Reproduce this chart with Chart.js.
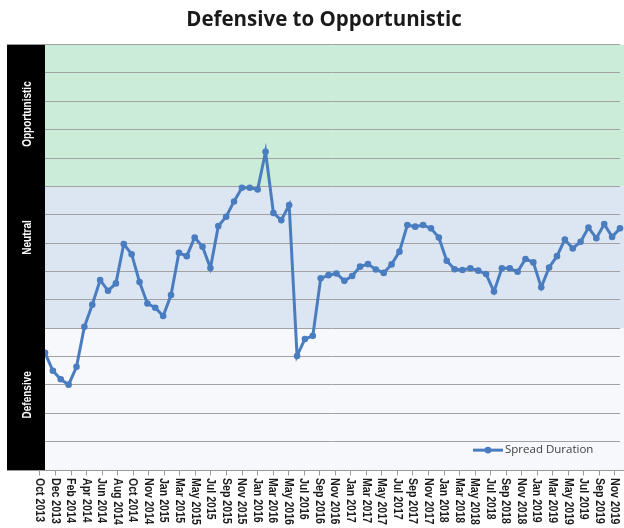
<!DOCTYPE html>
<html>
<head>
<meta charset="utf-8">
<script src="https://cdn.jsdelivr.net/npm/chart.js@4.4.0/dist/chart.umd.min.js"></script>
<style>
  html, body { margin: 0; padding: 0; background: #ffffff; }
  #wrap { width: 624px; height: 528px; }
</style>
</head>
<body>
<div id="wrap"><canvas id="canvas1" width="624" height="528"></canvas></div>
<script>
// months of the series (one point per month)
const months = [
  'Oct 2013', 'Nov 2013', 'Dec 2013', 'Jan 2014', 'Feb 2014', 'Mar 2014', 'Apr 2014', 'May 2014',
  'Jun 2014', 'Jul 2014', 'Aug 2014', 'Sep 2014', 'Oct 2014', 'Nov 2014', 'Dec 2014', 'Jan 2015',
  'Feb 2015', 'Mar 2015', 'Apr 2015', 'May 2015', 'Jun 2015', 'Jul 2015', 'Aug 2015', 'Sep 2015',
  'Oct 2015', 'Nov 2015', 'Dec 2015', 'Jan 2016', 'Feb 2016', 'Mar 2016', 'Apr 2016', 'May 2016',
  'Jun 2016', 'Jul 2016', 'Aug 2016', 'Sep 2016', 'Oct 2016', 'Nov 2016', 'Dec 2016', 'Jan 2017',
  'Feb 2017', 'Mar 2017', 'Apr 2017', 'May 2017', 'Jun 2017', 'Jul 2017', 'Aug 2017', 'Sep 2017',
  'Oct 2017', 'Nov 2017', 'Dec 2017', 'Jan 2018', 'Feb 2018', 'Mar 2018', 'Apr 2018', 'May 2018',
  'Jun 2018', 'Jul 2018', 'Aug 2018', 'Sep 2018', 'Oct 2018', 'Nov 2018', 'Dec 2018', 'Jan 2019',
  'Feb 2019', 'Mar 2019', 'Apr 2019', 'May 2019', 'Jun 2019', 'Jul 2019', 'Aug 2019', 'Sep 2019',
  'Oct 2019', 'Nov 2019'
];

const spreadDuration = [
  4.13, 3.50, 3.20, 3.01, 3.64, 5.05, 5.83, 6.70, 6.32, 6.58, 7.97, 7.61, 6.63, 5.87, 5.72, 5.43,
  6.17, 7.66, 7.54, 8.20, 7.87, 7.12, 8.60, 8.93, 9.47, 9.95, 9.95, 9.89, 11.22, 9.06, 8.81, 9.34,
  4.02, 4.62, 4.73, 6.76, 6.87, 6.93, 6.67, 6.84, 7.17, 7.26, 7.07, 6.95, 7.25, 7.70, 8.64, 8.58,
  8.64, 8.52, 8.20, 7.38, 7.08, 7.05, 7.11, 7.03, 6.91, 6.29, 7.11, 7.11, 6.99, 7.44, 7.32, 6.44,
  7.14, 7.54, 8.13, 7.81, 8.05, 8.55, 8.17, 8.67, 8.22, 8.52
];

// labels shown under the axis (date axis: evenly spaced, not one per month)
const tickLabels = [
  'Oct 2013', 'Dec 2013', 'Feb 2014', 'Apr 2014', 'Jun 2014', 'Aug 2014', 'Oct 2014', 'Nov 2014',
  'Jan 2015', 'Mar 2015', 'May 2015', 'Jul 2015', 'Sep 2015', 'Nov 2015', 'Jan 2016', 'Mar 2016',
  'May 2016', 'Jul 2016', 'Sep 2016', 'Nov 2016', 'Jan 2017', 'Mar 2017', 'May 2017', 'Jul 2017',
  'Sep 2017', 'Nov 2017', 'Jan 2018', 'Mar 2018', 'May 2018', 'Jul 2018', 'Sep 2018', 'Nov 2018',
  'Jan 2019', 'Mar 2019', 'May 2019', 'Jul 2019', 'Sep 2019', 'Nov 2019'
];
// the date ticks sit a bit before the month points (in months)
const tickShift = -0.7;

// zones of the y scale and where their names sit
const zoneNames = [ 'Defensive', 'Neutral', 'Opportunistic' ];
const zoneBounds = [ 0, 5, 10, 15 ];
const zoneLabelAt = [ 2.65, 8.2, 12.55 ];

const lineColor = '#4a7dbf';
const labelFont = "'Liberation Sans', Arial, sans-serif";

/* bands behind the grid, black strip with zone names, axis labels and legend */
const zonesPlugin = {
  id: 'zones',

  beforeDraw: ( chart, args, opts ) => {
    const { ctx, chartArea } = chart;
    const y = chart.scales.y;

    ctx.save();
    zoneNames.forEach(( name, i ) => {
      const top = y.getPixelForValue( zoneBounds[i + 1] );
      const bottom = y.getPixelForValue( zoneBounds[i] );
      ctx.fillStyle = opts.colors[i];
      ctx.fillRect( chartArea.left, top, chart.width - chartArea.left, bottom - top );
    });
    ctx.restore();
  },

  afterDraw: ( chart, args, opts ) => {
    const { ctx, chartArea } = chart;
    const x = chart.scales.x;
    const y = chart.scales.y;
    const first = months.indexOf( tickLabels[0] ) + tickShift;
    const last = months.indexOf( tickLabels[tickLabels.length - 1] ) + tickShift;
    const step = ( last - first ) / ( tickLabels.length - 1 );

    ctx.save();

    // black strip on the left
    ctx.fillStyle = '#000000';
    ctx.fillRect( chartArea.left - opts.stripWidth, chartArea.top, opts.stripWidth, chartArea.bottom - chartArea.top );

    // axis line and tick marks
    const axisY = Math.round( chartArea.bottom ) + 0.5;
    ctx.strokeStyle = '#9a9a9a';
    ctx.lineWidth = 1;
    ctx.beginPath();
    ctx.moveTo( chartArea.left - opts.stripWidth, axisY );
    ctx.lineTo( chart.width, axisY );
    tickLabels.forEach(( label, k ) => {
      const px = Math.round( x.getPixelForValue( first + k * step ) ) + 0.5;
      ctx.moveTo( px, axisY );
      ctx.lineTo( px, axisY + 5 );
    });
    ctx.stroke();

    ctx.fillStyle = '#ffffff';
    ctx.font = 'bold 12.5px ' + labelFont;
    ctx.textAlign = 'center';
    ctx.textBaseline = 'middle';
    zoneNames.forEach(( name, i ) => {
      ctx.save();
      ctx.translate( chartArea.left - opts.stripWidth / 2 + 2, y.getPixelForValue( zoneLabelAt[i] ) );
      ctx.rotate( -Math.PI / 2 );
      ctx.scale( 0.8, 1 );
      ctx.fillText( name, 0, 0 );
      ctx.restore();
    });

    // axis labels, read from top to bottom
    ctx.fillStyle = '#1a1a1a';
    ctx.font = 'bold 12px ' + labelFont;
    ctx.textAlign = 'left';
    ctx.textBaseline = 'middle';
    tickLabels.forEach(( label, k ) => {
      ctx.save();
      ctx.translate( x.getPixelForValue( first + k * step ), chartArea.bottom + 8 );
      ctx.rotate( Math.PI / 2 );
      ctx.scale( 0.88, 1 );
      ctx.fillText( label, 0, 0 );
      ctx.restore();
    });

    // legend in the lower right corner
    const ds = chart.data.datasets[0];
    const ly = y.getPixelForValue( 0.7 );
    const lx = chartArea.right - 147;
    ctx.strokeStyle = lineColor;
    ctx.lineWidth = 3;
    ctx.beginPath();
    ctx.moveTo( lx, ly );
    ctx.lineTo( lx + 30, ly );
    ctx.stroke();
    ctx.fillStyle = lineColor;
    ctx.beginPath();
    ctx.arc( lx + 15, ly, 3.3, 0, Math.PI * 2 );
    ctx.fill();
    ctx.fillStyle = '#404040';
    ctx.font = "11.5px 'Open Sans', sans-serif";
    ctx.fillText( ds.label, lx + 32, ly );

    ctx.restore();
  }
};

const canvas = document.querySelector( '#canvas1' );

const chartElement = new Chart( canvas, {
  type: 'line',
  data: {
    labels: months,
    datasets: [{
      label: 'Spread Duration',
      data: spreadDuration,
      borderColor: lineColor,
      backgroundColor: lineColor,
      borderWidth: 3,
      pointRadius: 3.3,
      pointBorderWidth: 0,
      pointBackgroundColor: lineColor,
      tension: 0,
      clip: false
    }]
  },
  options: {
    responsive: false,
    animation: false,
    layout: {
      padding: { left: 26, right: 2, top: 0, bottom: 0 }
    },
    scales: {
      x: {
        type: 'category',
        offset: false,
        grid: { display: false, drawTicks: false },
        border: { display: false },
        ticks: { display: false, autoSkip: false },
        afterFit: ( s ) => { s.height = 58; }
      },
      y: {
        min: 0,
        max: 15,
        grid: { color: '#a2a2a2', lineWidth: 1, drawTicks: false },
        border: { display: false },
        ticks: { display: false, stepSize: 1 },
        afterFit: ( s ) => { s.width = 19; }
      }
    },
    plugins: {
      legend: { display: false },
      tooltip: { enabled: false },
      title: {
        display: true,
        text: 'Defensive to Opportunistic',
        color: '#1a1a1a',
        font: { family: "'Open Sans', sans-serif", size: 20.5, weight: 'bold' },
        padding: { top: 8, bottom: 12 }
      },
      zones: {
        colors: [ '#f6f8fb', '#dce6f3', '#ccecda' ],
        stripWidth: 38
      }
    }
  },
  plugins: [ zonesPlugin ]
});
</script>
</body>
</html>
